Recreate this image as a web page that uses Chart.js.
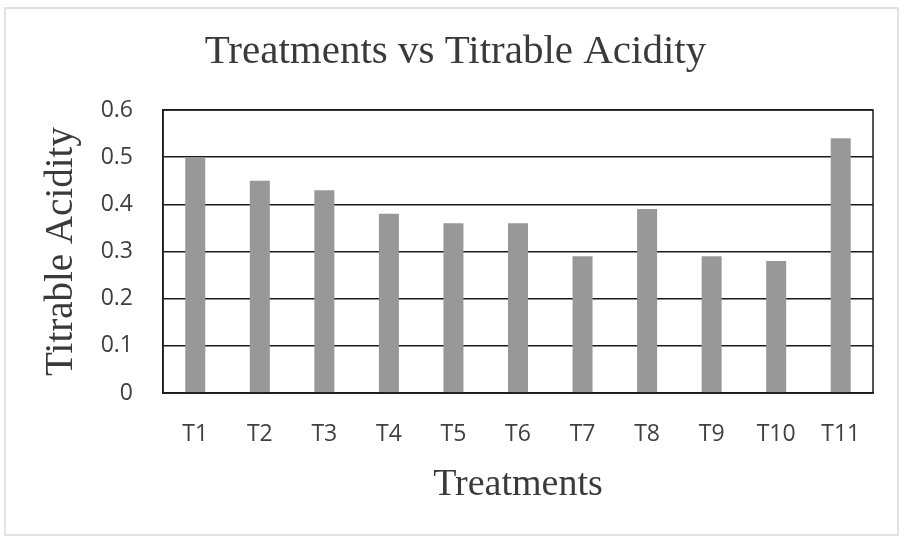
<!DOCTYPE html>
<html>
<head>
<meta charset="utf-8">
<script src="https://cdn.jsdelivr.net/npm/chart.js@4/dist/chart.umd.min.js"></script>
<style>
  html, body { margin: 0; padding: 0; background: #fff; }
  #wrap { width: 904px; height: 542px; }
</style>
</head>
<body>
<div id="wrap"><canvas id="acidityChart" width="904" height="542"></canvas></div>
<script>
// data
const treatments = ['T1', 'T2', 'T3', 'T4', 'T5', 'T6', 'T7', 'T8', 'T9', 'T10', 'T11'];
const acidity = [0.50, 0.45, 0.43, 0.38, 0.36, 0.36, 0.29, 0.39, 0.29, 0.28, 0.54];
const yMax = 0.6;
const yStep = 0.1;

// frame round the whole chart and box round the plot area
const frames = {
    id: 'frames',
    afterDraw(chart) {
        const ctx = chart.ctx;
        const a = chart.chartArea;
        ctx.save();
        ctx.strokeStyle = '#d9d9d9';
        ctx.lineWidth = 1.5;
        ctx.strokeRect(5, 8, 893, 527);
        ctx.strokeStyle = '#1a1a1a';
        ctx.lineWidth = 1.5;
        ctx.strokeRect(a.left, a.top, a.right - a.left, a.bottom - a.top);
        ctx.restore();
    }
};

const serif = "'Liberation Serif', 'Times New Roman', serif";
const sans = "'Open Sans', 'Liberation Sans', sans-serif";

new Chart(document.getElementById('acidityChart'), {
    type: 'bar',
    data: {
        labels: treatments,
        datasets: [{
            label: 'Titrable Acidity',
            data: acidity,
            backgroundColor: '#989898',
            borderWidth: 0,
            categoryPercentage: 1,
            barPercentage: 0.31
        }]
    },
    options: {
        responsive: false,
        animation: false,
        layout: { padding: { left: 38, right: 31, top: 0, bottom: 30 } },
        plugins: {
            legend: { display: false },
            tooltip: { enabled: false },
            title: {
                display: true,
                text: 'Treatments vs Titrable Acidity',
                color: '#3a3a3a',
                font: { family: serif, size: 41, weight: 'normal' },
                padding: { top: 28, bottom: 32.8 }
            }
        },
        scales: {
            x: {
                afterFit(s) { s.height = 119; },
                grid: { display: false, drawTicks: false },
                border: { display: true, color: '#1a1a1a', width: 1.5 },
                ticks: { color: '#404040', font: { family: sans, size: 23 }, padding: 28, maxRotation: 0 },
                title: {
                    display: true,
                    text: 'Treatments',
                    color: '#3a3a3a',
                    font: { family: serif, size: 38, weight: 'normal' },
                    padding: { top: 2, bottom: 4 }
                }
            },
            y: {
                min: 0,
                max: yMax,
                afterFit(s) { s.width = 125; },
                ticks: { stepSize: yStep, color: '#404040', font: { family: sans, size: 23 }, padding: 30 },
                grid: { color: '#1a1a1a', lineWidth: 1.5, drawTicks: false },
                border: { display: true, color: '#1a1a1a', width: 1.5 },
                title: {
                    display: true,
                    text: 'Titrable Acidity',
                    color: '#3a3a3a',
                    font: { family: serif, size: 39, weight: 'normal' },
                    padding: { top: 0, bottom: 14 }
                }
            }
        }
    },
    plugins: [frames]
});
</script>
</body>
</html>
